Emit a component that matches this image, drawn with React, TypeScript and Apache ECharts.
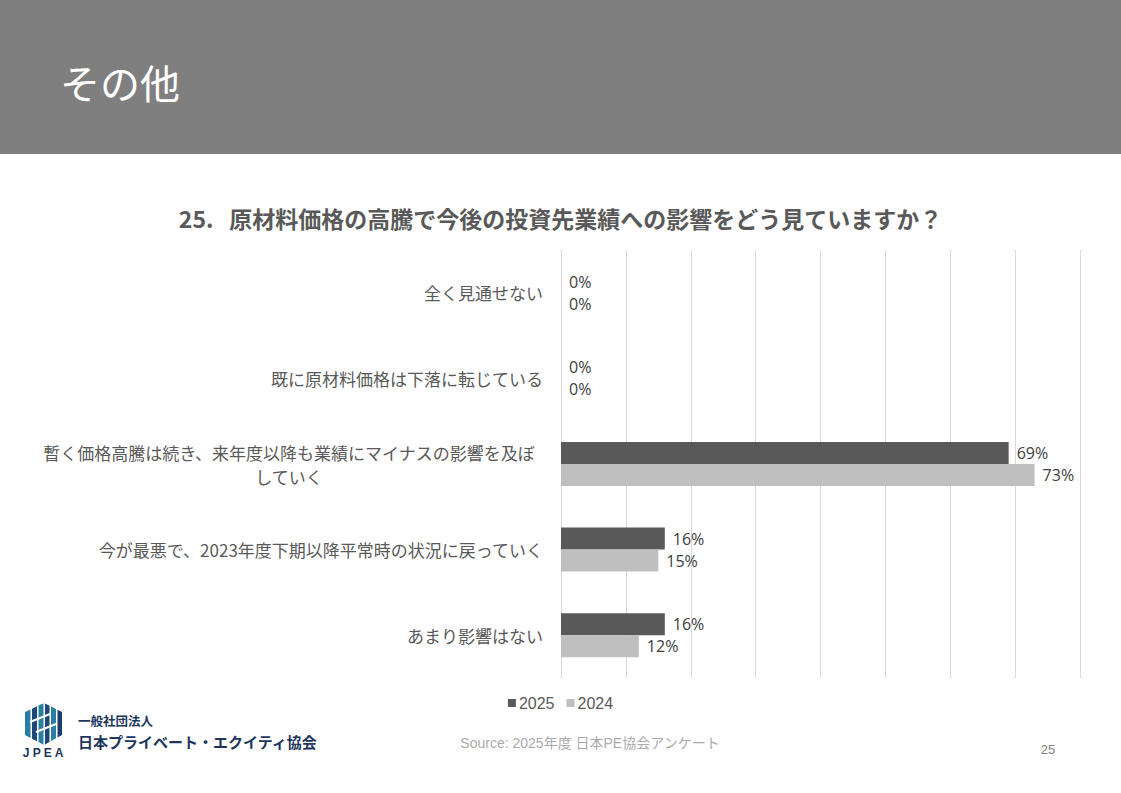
import React, { useEffect, useRef } from "react";
import * as echarts from "echarts";

const categories = [
  "全く見通せない",
  "既に原材料価格は下落に転じている",
  "暫く価格高騰は続き、来年度以降も業績にマイナスの影響を及ぼ\nしていく",
  "今が最悪で、2023年度下期以降平常時の状況に戻っていく",
  "あまり影響はない",
];
const values2025 = [0, 0, 69, 16, 16];
const values2024 = [0, 0, 73, 15, 12];
const seriesNames = ["2025", "2024"];
const xTicks = [0, 10, 20, 30, 40, 50, 60, 70, 80];

const JP = "'Noto Sans CJK JP', 'Noto Sans', sans-serif";
const LAT = "'Open Sans', 'Noto Sans CJK JP', sans-serif";
const ARIAL = "'Liberation Sans', 'Noto Sans CJK JP', sans-serif";

function hexStrips() {
  const cx = 44;
  const left = 25;
  const right = 62;
  const topY = 703;
  const sideTop = 712;
  const sideBot = 735;
  const botY = 745;
  const topAt = (x: number) =>
    x <= cx ? sideTop - ((x - left) * (sideTop - topY)) / (cx - left) : topY + ((x - cx) * (sideTop - topY)) / (right - cx);
  const botAt = (x: number) =>
    x <= cx ? sideBot + ((x - left) * (botY - sideBot)) / (cx - left) : botY - ((x - cx) * (botY - sideBot)) / (right - cx);
  const strips = [
    [25, 30.5, "#2a7ea6"],
    [32, 37, "#1c4778"],
    [38.5, 43.5, "#2a7ea6"],
    [45, 49.5, "#1c4778"],
    [51, 56, "#2a7ea6"],
    [57.5, 62, "#1c3c6a"],
  ] as [number, number, string][];
  const els: any[] = [];
  strips.forEach(([a, b, c]) => {
    const pts: number[][] = [[a, topAt(a)]];
    if (a < cx && b > cx) pts.push([cx, topY]);
    pts.push([b, topAt(b)]);
    pts.push([b, botAt(b)]);
    if (a < cx && b > cx) pts.push([cx, botY]);
    pts.push([a, botAt(a)]);
    els.push({ type: "polygon", shape: { points: pts }, style: { fill: c } });
  });
  els.push({ type: "line", shape: { x1: 30, y1: 722, x2: 50, y2: 714 }, style: { stroke: "#fff", lineWidth: 2 } });
  els.push({ type: "line", shape: { x1: 36, y1: 732, x2: 56, y2: 724 }, style: { stroke: "#fff", lineWidth: 2 } });
  return els;
}

export default function App() {
  const ref = useRef<HTMLDivElement>(null);
  useEffect(() => {
    if (!ref.current) return;
    const chart = echarts.init(ref.current, undefined, { renderer: "svg" });
    const labelStyle = {
      show: true,
      position: "right",
      distance: 8,
      formatter: "{c}%",
      fontFamily: LAT,
      fontSize: 16,
      color: "#404040",
    };
    const option: any = {
      animation: false,
      backgroundColor: "#ffffff",
      title: {
        text: "25.   原材料価格の高騰で今後の投資先業績への影響をどう見ていますか？",
        left: "center",
        top: 201,
        textStyle: { fontFamily: JP, fontSize: 23, fontWeight: "bold", color: "#595959" },
      },
      legend: {
        data: seriesNames,
        left: "center",
        top: 690,
        icon: "rect",
        itemWidth: 8,
        itemHeight: 8,
        itemGap: 12,
        textStyle: { fontFamily: ARIAL, fontSize: 16, color: "#595959", padding: [0, 0, 0, -2] },
      },
      grid: { left: 561, right: 41, top: 250, bottom: 115, containLabel: false },
      xAxis: {
        type: "value",
        min: xTicks[0],
        max: xTicks[xTicks.length - 1],
        interval: 10,
        axisLabel: { show: false },
        axisLine: { show: false },
        axisTick: { show: false },
        splitLine: { show: true, lineStyle: { color: "#d9d9d9", width: 1 } },
      },
      yAxis: {
        type: "category",
        inverse: true,
        data: categories,
        axisLine: { show: false },
        axisTick: { show: false },
        axisLabel: {
          margin: 18,
          fontFamily: JP,
          fontSize: 17,
          color: "#595959",
          lineHeight: 24,
          formatter: (v: string) =>
            v.includes("\n")
              ? v
                  .split("\n")
                  .map((l) => `{w|${l}}`)
                  .join("\n")
              : v,
          rich: {
            w: { width: 508, align: "center", fontFamily: JP, fontSize: 17, color: "#595959", lineHeight: 24 },
          },
        },
      },
      series: [
        {
          name: seriesNames[0],
          type: "bar",
          data: values2025,
          barWidth: 22,
          barGap: "0%",
          itemStyle: { color: "#595959" },
          label: labelStyle,
        },
        {
          name: seriesNames[1],
          type: "bar",
          data: values2024,
          barWidth: 22,
          barGap: "0%",
          itemStyle: { color: "#bfbfbf" },
          label: labelStyle,
        },
      ],
      graphic: [
        { type: "rect", shape: { x: 0, y: 0, width: 1121, height: 154 }, style: { fill: "#7f7f7f" }, z: -1 },
        {
          type: "text",
          x: 60,
          y: 82,
          style: { text: "その他", fill: "#ffffff", fontFamily: JP, fontSize: 40, textVerticalAlign: "middle" },
        },
        {
          type: "text",
          x: 590,
          y: 743,
          style: {
            text: "Source: 2025年度 日本PE協会アンケート",
            fill: "#aaaaaa",
            fontFamily: ARIAL,
            fontSize: 14,
            textAlign: "center",
            textVerticalAlign: "middle",
          },
        },
        {
          type: "text",
          x: 1048,
          y: 749,
          style: { text: "25", fill: "#7f7f7f", fontFamily: ARIAL, fontSize: 13, textAlign: "center", textVerticalAlign: "middle" },
        },
        { type: "group", children: hexStrips() },
        {
          type: "text",
          x: 43,
          y: 753,
          style: { text: "J P E A", fill: "#1c3660", fontFamily: ARIAL, fontSize: 12, fontWeight: "bold", textAlign: "center", textVerticalAlign: "middle" },
        },
        {
          type: "text",
          x: 78,
          y: 720,
          style: { text: "一般社団法人", fill: "#1c3660", fontFamily: JP, fontSize: 12.5, fontWeight: "bold", textVerticalAlign: "middle" },
        },
        {
          type: "text",
          x: 78,
          y: 741,
          style: { text: "日本プライベート・エクイティ協会", fill: "#1c3660", fontFamily: JP, fontSize: 15, fontWeight: "bold", textVerticalAlign: "middle" },
        },
      ],
    };
    chart.setOption(option);
    return () => chart.dispose();
  }, []);
  return <div ref={ref} style={{ position: "absolute", left: 0, top: 0, width: 1121, height: 793 }} />;
}
